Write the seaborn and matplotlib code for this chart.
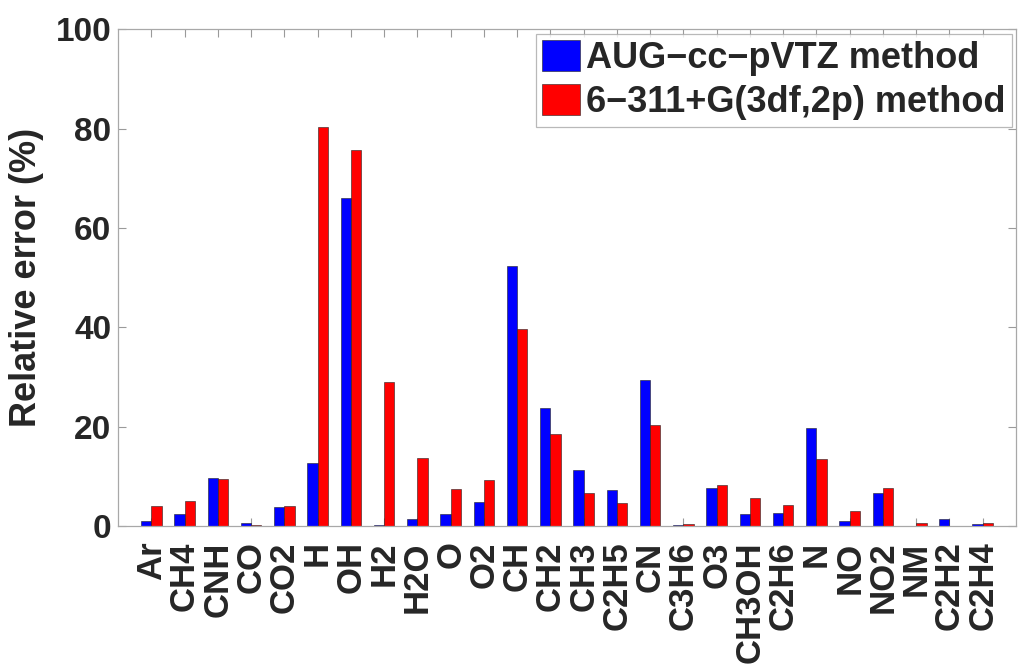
import matplotlib
matplotlib.use("Agg")
import matplotlib.pyplot as plt
import seaborn as sns
import pandas as pd

# Molecules / atoms studied
species = ["Ar", "CH4", "CNH", "CO", "CO2", "H", "OH", "H2", "H2O", "O", "O2",
           "CH", "CH2", "CH3", "C2H5", "CN", "C3H6", "O3", "CH3OH", "C2H6",
           "N", "NO", "NO2", "NM", "C2H2", "C2H4"]

# Relative error (%) for each basis set
aug_cc_pvtz = [1.1, 2.4, 9.6, 0.6, 3.8, 12.6, 66.0, 0.2, 1.5, 2.5, 4.9,
               52.4, 23.8, 11.3, 7.2, 29.3, 0.15, 7.6, 2.4, 2.7,
               19.7, 1.0, 6.6, 0.05, 1.5, 0.5]
pople_3df2p = [4.0, 5.1, 9.4, 0.15, 4.0, 80.3, 75.7, 28.9, 13.6, 7.5, 9.2,
               39.7, 18.6, 6.7, 4.7, 20.3, 0.35, 8.2, 5.7, 4.2,
               13.5, 3.1, 7.6, 0.6, 0.05, 0.6]

method_names = ["AUG\u2212cc\u2212pVTZ method", "6\u2212311+G(3df,2p) method"]
method_colors = ["#0000FF", "#FF0000"]

df = pd.DataFrame({
    "species": species * 2,
    "error": aug_cc_pvtz + pople_3df2p,
    "method": [method_names[0]] * len(species) + [method_names[1]] * len(species),
})

sns.set_theme(style="white")
plt.rcParams["font.family"] = ["Liberation Sans", "DejaVu Sans"]
plt.rcParams["font.weight"] = "bold"

fig = plt.figure(figsize=(10.18, 6.69), dpi=100)
ax = fig.add_axes([0.116, 0.2137, 0.882, 0.7425])

sns.barplot(data=df, x="species", y="error", hue="method",
            palette=method_colors, hue_order=method_names,
            width=0.62, saturation=1, edgecolor="#202020", linewidth=0.4,
            ax=ax)

ax.set_xlim(-1, len(species))
ax.set_ylim(0, 100)
ax.set_yticks([0, 20, 40, 60, 80, 100])
ax.set_xlabel("")
ax.set_ylabel("Relative error (%)", fontsize=26, fontweight="bold", labelpad=8)

ax.tick_params(axis="y", labelsize=24, direction="in", length=6, width=0.8,
               color="#9a9a9a", left=True, right=True, pad=5)
ax.tick_params(axis="x", labelsize=25, direction="in", length=6, width=0.8,
               color="#9a9a9a", bottom=True, top=True, labelrotation=90, pad=11)
for lab in ax.get_xticklabels() + ax.get_yticklabels():
    lab.set_fontweight("bold")

for sp in ax.spines.values():
    sp.set_visible(True)
    sp.set_color("#a8a8a8")
    sp.set_linewidth(0.9)

handles, labels = ax.get_legend_handles_labels()
leg = ax.legend(handles, labels, loc="upper right",
                prop={"weight": "bold", "size": 26},
                frameon=True, fancybox=False, edgecolor="#a8a8a8",
                handlelength=1.05, handleheight=0.95, handletextpad=0.15,
                borderpad=0.18, labelspacing=0.22, borderaxespad=0.12)
leg.get_frame().set_linewidth(0.9)

fig.savefig("out.png", dpi=100)
